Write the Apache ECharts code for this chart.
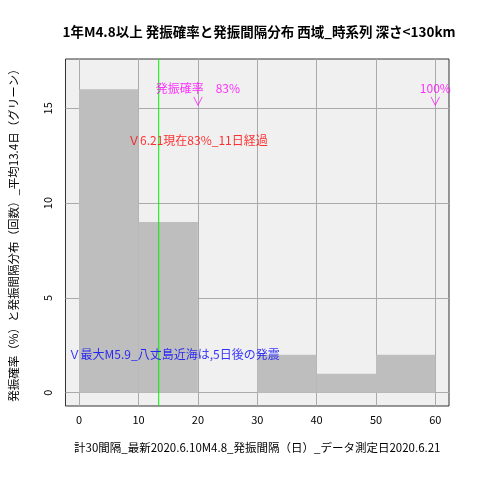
<!DOCTYPE html>
<html><head><meta charset="utf-8">
<script src="https://cdn.jsdelivr.net/npm/echarts@6/dist/echarts.min.js"></script>
<style>body{margin:0;background:#fff}#c{width:480px;height:480px}</style>
</head><body><div id="c"></div>
<script>
// histogram bins (days) and counts
const binStart = [0, 10, 20, 30, 40, 50];
const binEnd = [10, 20, 30, 40, 50, 60];
const counts = [16, 9, 0, 2, 1, 2];
const avgInterval = 13.4;
const probMarks = [[20, 15, '発振確率　83%'], [60, 15, '100%']];
const notes = [[20, 13.3, 'Ｖ6.21現在83%_11日経過', '#ff0000'], [16, 2, 'Ｖ最大M5.9_八丈島近海は,5日後の発震', '#0000ff']];
const xTicks = [0, 10, 20, 30, 40, 50, 60];
const yTicks = [0, 5, 10, 15];

const chart = echarts.init(document.getElementById('c'));
const font = '"Noto Sans CJK JP", sans-serif';

let bins = binStart.map((s, i) => [s, binEnd[i], counts[i]]);
const gridStyle = {color: '#aaa', width: 1, type: 'solid'};

chart.setOption({
    backgroundColor: '#fff',
    textStyle: {fontFamily: font},
    title: {
        text: '1年M4.8以上 発振確率と発振間隔分布 西域_時系列 深さ<130km',
        left: 254, textAlign: 'center', top: 20,
        textStyle: {fontSize: 13.5, fontWeight: 'bold', color: '#000', fontFamily: font}
    },
    grid: {left: 59, right: 31, top: 59, bottom: 74, show: true, backgroundColor: '#f0f0f0', borderColor: '#333', borderWidth: 1},
    xAxis: {
        type: 'value', min: -2.3, max: 62.3,
        axisLabel: {color: '#000', fontSize: 11, customValues: xTicks},
        axisTick: {customValues: xTicks, lineStyle: {color: '#333'}},
        axisLine: {show: false},
        splitLine: {show: false},
        name: '計30間隔_最新2020.6.10M4.8_発振間隔（日）_データ測定日2020.6.21',
        nameLocation: 'middle', nameGap: 36, nameTextStyle: {fontSize: 11.5, color: '#000'}
    },
    yAxis: {
        type: 'value', min: -0.7, max: 17.6,
        axisLabel: {color: '#000', fontSize: 11, rotate: 90, margin: 12, customValues: yTicks},
        axisTick: {customValues: yTicks, lineStyle: {color: '#333'}},
        axisLine: {show: false},
        splitLine: {show: false},
        name: '発振確率（%）と発振間隔分布（回数）_平均13.4日（グリーン）',
        nameLocation: 'middle', nameGap: 46, nameTextStyle: {fontSize: 11.5, color: '#000'}
    },
    series: [
        {
            type: 'line', silent: true, symbol: 'none', data: [], z: 1,
            markLine: {
                silent: true, symbol: 'none', label: {show: false}, z: 1, lineStyle: gridStyle,
                data: [...xTicks.map(v => ({xAxis: v})), ...yTicks.map(v => ({yAxis: v}))]
            }
        },
        {
            type: 'custom', data: bins, z: 3,
            renderItem: (params, api) => {
                const p0 = api.coord([api.value(0), 0]);
                const p1 = api.coord([api.value(1), api.value(2)]);
                return {type: 'rect', shape: {x: p0[0], y: p1[1], width: p1[0] - p0[0], height: p0[1] - p1[1]},
                    style: {fill: '#bebebe'}};
            }
        },
        {
            type: 'custom', data: [[avgInterval]], z: 4,
            renderItem: (params, api) => {
                const a = api.coord([api.value(0), -0.7]);
                const b = api.coord([api.value(0), 17.6]);
                return {type: 'line', shape: {x1: a[0], y1: a[1], x2: b[0], y2: b[1]},
                    style: {stroke: '#00ee00', lineWidth: 1}};
            }
        },
        {
            type: 'scatter', z: 5, symbolSize: 0, silent: true,
            data: probMarks.map(m => ({value: [m[0], m[1]], name: m[2]})),
            label: {show: true, position: 'top', distance: 0, color: '#ff00ff', fontSize: 12,
                formatter: p => p.name + '\n∨', lineHeight: 13}
        },
        {
            type: 'scatter', z: 5, symbolSize: 0, silent: true,
            data: notes.map(n => ({value: [n[0], n[1]], name: n[2], label: {color: n[3]}})),
            label: {show: true, position: 'inside', fontSize: 12, formatter: p => p.name}
        }
    ]
});
</script></body></html>
